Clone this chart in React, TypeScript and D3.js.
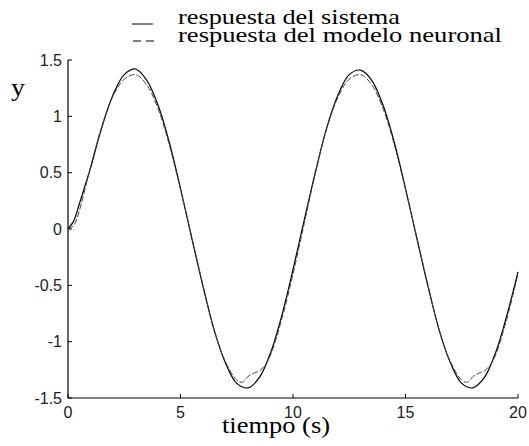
import React from "react";
import * as d3 from "d3";

const timeSys = [0,0.25,0.5,0.75,1,1.5,2,2.5,3,3.5,4,4.5,5,5.5,6,6.5,7,7.5,8,8.5,9,9.5,10,10.5,11,11.5,12,12.5,13,13.5,14,14.5,15,15.5,16,16.5,17,17.5,18,18.5,19,19.5,20];
const ySys = [0,0.07,0.22,0.38,0.54,0.90,1.19,1.37,1.42,1.32,1.10,0.77,0.36,-0.08,-0.51,-0.90,-1.19,-1.37,-1.41,-1.32,-1.10,-0.77,-0.36,0.08,0.51,0.90,1.19,1.37,1.41,1.32,1.10,0.77,0.36,-0.08,-0.51,-0.90,-1.19,-1.37,-1.41,-1.32,-1.10,-0.77,-0.38];

const timeMod = [0,0.25,0.5,0.75,1,1.5,2,2.5,3,3.5,4,4.5,5,5.5,6,6.5,7,7.5,7.75,8,8.25,8.5,8.75,9,9.5,10,10.5,11,11.5,12,12.5,13,13.5,14,14.5,15,15.5,16,16.5,17,17.5,17.75,18,18.25,18.5,18.75,19,19.5,20];
const yMod = [0,0.03,0.16,0.35,0.55,0.91,1.18,1.33,1.37,1.28,1.07,0.75,0.35,-0.07,-0.50,-0.90,-1.18,-1.34,-1.36,-1.31,-1.28,-1.26,-1.21,-1.12,-0.80,-0.40,0.05,0.50,0.89,1.17,1.33,1.37,1.28,1.07,0.75,0.35,-0.07,-0.50,-0.90,-1.18,-1.34,-1.36,-1.31,-1.28,-1.26,-1.21,-1.12,-0.80,-0.40];

const xTicks = [0, 5, 10, 15, 20];
const yTicks = [-1.5, -1, -0.5, 0, 0.5, 1, 1.5];
const legendLabels = ["respuesta del sistema", "respuesta del modelo neuronal"];
const xLabel = "tiempo (s)";
const yLabel = "y";

export default function App() {
  const x = d3.scaleLinear().domain([0, 20]).range([68, 518]);
  const y = d3.scaleLinear().domain([-1.5, 1.5]).range([398, 60]);
  const line = d3
    .line<[number, number]>()
    .x((d) => x(d[0]))
    .y((d) => y(d[1]))
    .curve(d3.curveCatmullRom);
  const sysPts: [number, number][] = timeSys.map((t, i) => [t, ySys[i]]);
  const modPts: [number, number][] = timeMod.map((t, i) => [t, yMod[i]]);
  const tickFont = "'Liberation Sans', Arial, sans-serif";
  const serif = "'Liberation Serif', 'Times New Roman', serif";
  return (
    <svg
      width={529}
      height={446}
      style={{ position: "absolute", left: 0, top: 0, background: "#fff" }}
    >
      {/* axes */}
      <line x1={x(0)} x2={x(0)} y1={y(1.5)} y2={y(-1.5)} stroke="#000" strokeWidth={1.2} />
      <line x1={x(0)} x2={x(20)} y1={y(-1.5)} y2={y(-1.5)} stroke="#000" strokeWidth={1.2} />
      {yTicks.map((v) => (
        <g key={"y" + v}>
          <line x1={x(0)} x2={x(0) + 4} y1={y(v)} y2={y(v)} stroke="#000" />
          <text
            x={x(0) - 6}
            y={y(v)}
            dy="0.35em"
            textAnchor="end"
            fontFamily={tickFont}
            fontSize={16}
            fill="#222"
          >
            {v}
          </text>
        </g>
      ))}
      {xTicks.map((v) => (
        <g key={"x" + v}>
          <line x1={x(v)} x2={x(v)} y1={y(-1.5)} y2={y(-1.5) - 4} stroke="#000" />
          <text
            x={x(v)}
            y={418}
            textAnchor="middle"
            fontFamily={tickFont}
            fontSize={16}
            fill="#222"
          >
            {v}
          </text>
        </g>
      ))}
      {/* series */}
      <path d={line(sysPts) || ""} fill="none" stroke="#000" strokeWidth={1.2} />
      <path
        d={line(modPts) || ""}
        fill="none"
        stroke="#444"
        strokeWidth={1}
        strokeDasharray="6 2"
      />
      {/* axis labels */}
      <text
        x={222}
        y={433}
        fontFamily={serif}
        fontSize={23}
        textLength={108}
        lengthAdjust="spacingAndGlyphs"
        fill="#000"
      >
        {xLabel}
      </text>
      <text
        x={11}
        y={96}
        fontFamily={serif}
        fontSize={26}
        textLength={14}
        lengthAdjust="spacingAndGlyphs"
        fill="#000"
      >
        {yLabel}
      </text>
      {/* legend */}
      <line x1={132} x2={153} y1={24} y2={24} stroke="#000" strokeWidth={1} />
      <line x1={133} x2={154} y1={41} y2={41} stroke="#000" strokeWidth={1.2} strokeDasharray="8 5" />
      <text
        x={178}
        y={24}
        fontFamily={serif}
        fontSize={21}
        textLength={222}
        lengthAdjust="spacingAndGlyphs"
        fill="#000"
      >
        {legendLabels[0]}
      </text>
      <text
        x={178}
        y={42}
        fontFamily={serif}
        fontSize={21}
        textLength={324}
        lengthAdjust="spacingAndGlyphs"
        fill="#000"
      >
        {legendLabels[1]}
      </text>
    </svg>
  );
}
